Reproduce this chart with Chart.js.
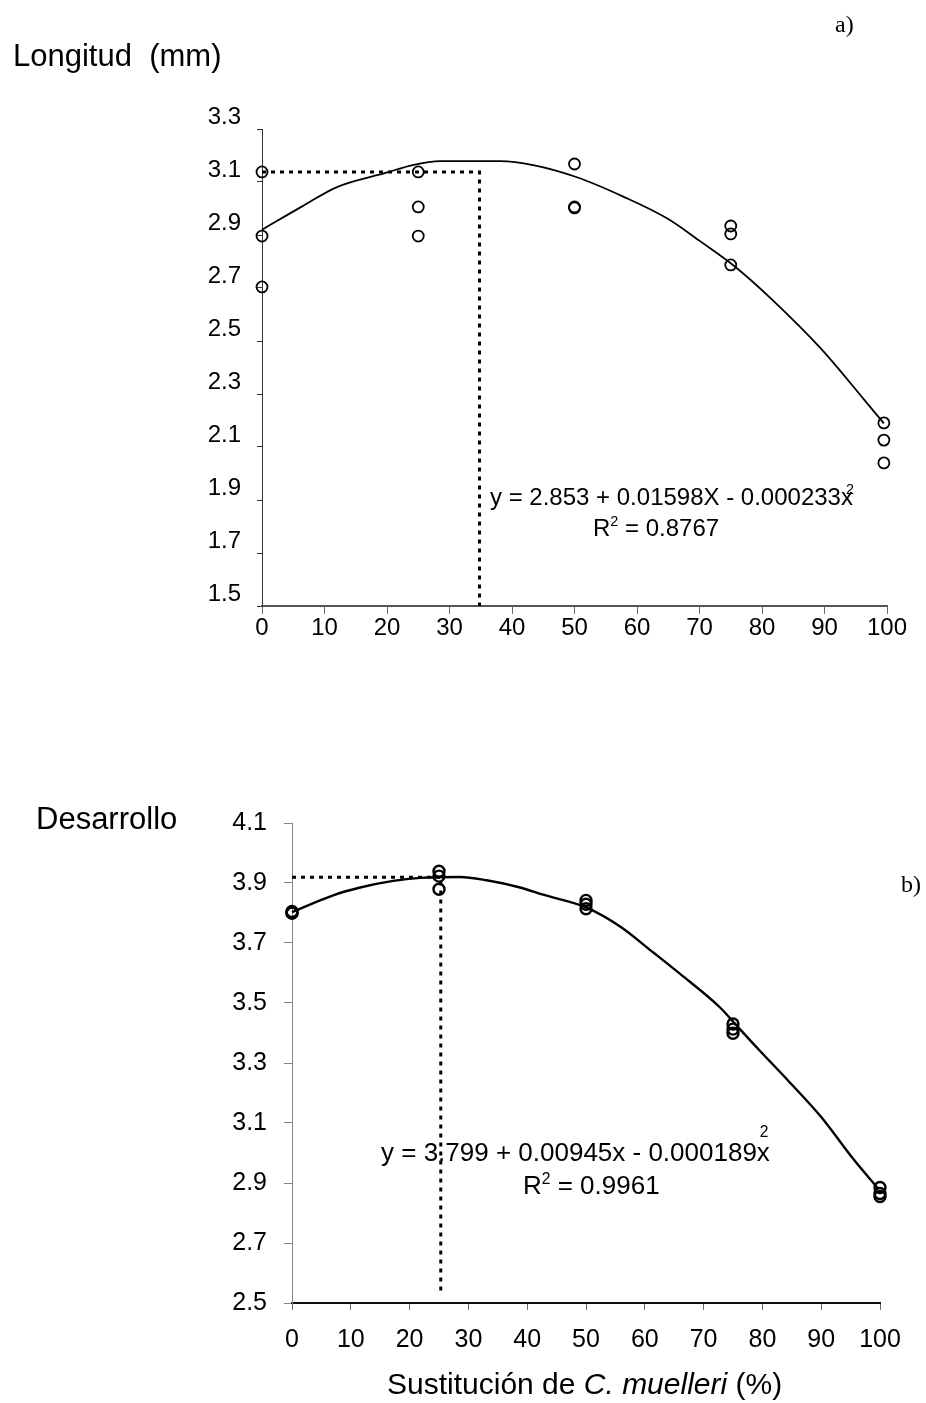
<!DOCTYPE html>
<html>
<head>
<meta charset="utf-8">
<script src="https://cdn.jsdelivr.net/npm/chart.js@4.4.1/dist/chart.umd.min.js"></script>
<style>
  body { margin: 0; background: #fff; width: 926px; height: 1403px; position: relative; overflow: hidden;
         font-family: "Liberation Sans", Arial, sans-serif; color: #000; }
  canvas { position: absolute; left: 0; }
  #topChart { top: 0; }
  #botChart { top: 700px; }
  .txt { position: absolute; white-space: nowrap; line-height: 1; }
  .serif { font-family: "Liberation Serif", "Times New Roman", serif; }
  .sup { font-size: 60%; position: relative; }
</style>
</head>
<body>
<canvas id="topChart" width="926" height="700"></canvas>
<canvas id="botChart" width="926" height="703"></canvas>

<div class="txt" style="left:13px; top:40px; font-size:31px;">Longitud&nbsp;&nbsp;(mm)</div>
<div class="txt serif" style="left:835px; top:12px; font-size:24px;">a)</div>
<div class="txt" style="left:490px; top:485px; font-size:24px;">y = 2.853 + 0.01598X - 0.000233x<span class="sup" style="margin-left:-7px; top:-11px;">2</span></div>
<div class="txt" style="left:593px; top:516px; font-size:24px;">R<span class="sup" style="top:-10px;">2</span> = 0.8767</div>

<div class="txt" style="left:36px; top:803px; font-size:31px;">Desarrollo</div>
<div class="txt serif" style="left:901px; top:872px; font-size:24px;">b)</div>
<div class="txt" style="left:381px; top:1139px; font-size:26px;">y = 3.799 + 0.00945x - 0.000189x<span class="sup" style="margin-left:-10px; top:-24px;">2</span></div>
<div class="txt" style="left:523px; top:1172px; font-size:26px;">R<span class="sup" style="top:-10px;">2</span> = 0.9961</div>
<div class="txt" style="left:387px; top:1369px; font-size:30px;">Sustitución de <i>C. muelleri</i> (%)</div>

<script>
// a) Longitud
const topObsX = [0, 0, 0, 25, 25, 25, 50, 50, 50, 75, 75, 75, 99.5, 99.5, 99.5];
const topObsY = [3.138, 2.896, 2.704, 3.138, 3.006, 2.896, 3.168, 3.006, 3.002, 2.934, 2.904, 2.787, 2.191, 2.126, 2.04];
const topFitX = [0, 6.5, 11.9, 19.9, 24.1, 28.5, 38.1, 43.4, 50.4, 57.8, 64.8, 70.2, 75.5, 81.4, 89.4, 96.4, 99.5];
const topFitY = [2.92, 3.009, 3.08, 3.135, 3.164, 3.179, 3.179, 3.164, 3.118, 3.045, 2.963, 2.875, 2.784, 2.661, 2.472, 2.277, 2.189];
const topOptX = [0, 34.8, 34.8];
const topOptY = [3.138, 3.138, 1.5];
const topYTicks = [1.5, 1.7, 1.9, 2.1, 2.3, 2.5, 2.7, 2.9, 3.1, 3.3];

// b) Desarrollo
const botObsX = [0, 0, 0, 25, 25, 25, 50, 50, 50, 75, 75, 75, 100, 100, 100];
const botObsY = [3.80, 3.805, 3.80, 3.939, 3.923, 3.879, 3.842, 3.829, 3.814, 3.430, 3.413, 3.399, 2.885, 2.865, 2.855];
const botFitX = [0, 7, 11.6, 17.2, 21.8, 28.6, 33.1, 38.8, 42.7, 50.1, 55.8, 61.4, 66, 72.8, 75.6, 79.6, 84.2, 90, 95.5, 99.7];
const botFitY = [3.803, 3.859, 3.885, 3.907, 3.917, 3.920, 3.909, 3.885, 3.861, 3.818, 3.755, 3.669, 3.597, 3.485, 3.425, 3.34, 3.245, 3.12, 2.979, 2.881];
const botOptX = [0, 25.3, 25.3];
const botOptY = [3.919, 3.919, 2.527];
const botYTicks = [2.5, 2.7, 2.9, 3.1, 3.3, 3.5, 3.7, 3.9, 4.1];

const xTicks = [0, 10, 20, 30, 40, 50, 60, 70, 80, 90, 100];

const pts = (xs, ys) => xs.map((x, i) => ({ x: x, y: ys[i] }));

Chart.defaults.font.family = '"Liberation Sans", Arial, sans-serif';
Chart.defaults.color = '#000';

function makeChart(id, cfg) {
    return new Chart(document.getElementById(id).getContext('2d'), {
        type: 'scatter',
        data: {
            datasets: [
                {
                    data: pts(cfg.obsX, cfg.obsY),
                    pointStyle: 'circle',
                    pointRadius: cfg.r,
                    pointBorderWidth: cfg.pw,
                    borderColor: '#000',
                    backgroundColor: 'rgba(0,0,0,0)',
                    showLine: false,
                    clip: false
                },
                {
                    data: pts(cfg.fitX, cfg.fitY),
                    showLine: true,
                    borderColor: '#000',
                    borderWidth: cfg.lw,
                    cubicInterpolationMode: 'monotone',
                    pointRadius: 0,
                    clip: false
                },
                {
                    data: pts(cfg.optX, cfg.optY),
                    showLine: true,
                    borderColor: '#000',
                    borderWidth: 3,
                    borderDash: [4, 5],
                    tension: 0,
                    pointRadius: 0
                }
            ]
        },
        options: {
            responsive: false,
            animation: false,
            devicePixelRatio: 1,
            layout: { padding: cfg.pad },
            plugins: { legend: { display: false }, tooltip: { enabled: false } },
            scales: {
                x: {
                    type: 'linear', min: 0, max: 100,
                    afterBuildTicks: s => { s.ticks = xTicks.map(v => ({ value: v })); },
                    afterFit: s => { s.height = cfg.xh; },
                    border: { color: cfg.xAxisColor, width: 2 },
                    grid: { drawOnChartArea: false, tickLength: cfg.xTickLen, color: '#666' },
                    ticks: { font: { size: cfg.fs }, padding: cfg.xPad, maxRotation: 0, autoSkip: false }
                },
                y: {
                    type: 'linear', min: cfg.yMin, max: cfg.yMax,
                    afterBuildTicks: s => { s.ticks = cfg.yTicks.map(v => ({ value: v })); },
                    afterFit: s => { s.width = cfg.yw; },
                    border: { color: cfg.yAxisColor, width: 1 },
                    grid: { drawOnChartArea: false, tickLength: cfg.yTickLen, color: cfg.yAxisColor },
                    ticks: { font: { size: cfg.fs }, padding: cfg.yPad, labelOffset: cfg.labelOffset,
                             autoSkip: false, callback: v => v.toFixed(1) }
                }
            }
        }
    });
}

makeChart('topChart', {
    obsX: topObsX, obsY: topObsY, fitX: topFitX, fitY: topFitY, optX: topOptX, optY: topOptY,
    yTicks: topYTicks, yMin: 1.5, yMax: 3.3,
    pad: { top: 129, right: 39, left: 0, bottom: 0 }, xh: 94, yw: 262,
    fs: 24, r: 5.5, pw: 1.8, lw: 1.8,
    xAxisColor: '#555', yAxisColor: '#333', xTickLen: 8, yTickLen: 5,
    xPad: 0, yPad: 16, labelOffset: -12
});

makeChart('botChart', {
    obsX: botObsX, obsY: botObsY, fitX: botFitX, fitY: botFitY, optX: botOptX, optY: botOptY,
    yTicks: botYTicks, yMin: 2.5, yMax: 4.1,
    pad: { top: 123, right: 46, left: 0, bottom: 0 }, xh: 100, yw: 292,
    fs: 25, r: 5.5, pw: 2.4, lw: 2.4,
    xAxisColor: '#111', yAxisColor: '#888', xTickLen: 7, yTickLen: 8,
    xPad: 15, yPad: 17, labelOffset: 0
});
</script>
</body>
</html>
